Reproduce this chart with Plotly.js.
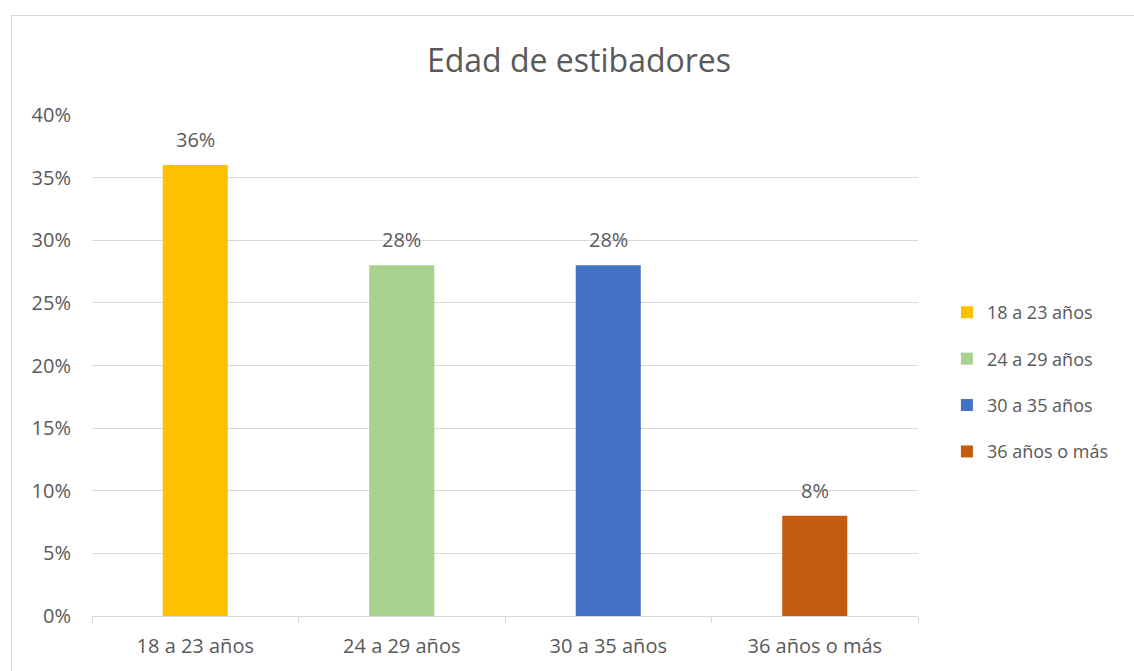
<!DOCTYPE html>
<html>
<head>
<meta charset="utf-8">
<script src="https://cdn.plot.ly/plotly-3.0.1.min.js"></script>
<style>
  html, body { margin: 0; padding: 0; background: #ffffff; overflow: hidden; }
  #chart { position: absolute; left: 0; top: 0; width: 1134px; height: 671px; }
  #frame { position: absolute; left: 11px; top: 15px; width: 1200px; height: 700px;
           border: 1px solid #d9d9d9; box-sizing: border-box; pointer-events: none; }
</style>
</head>
<body>
<div id="chart"></div>
<div id="frame"></div>
<script>
// Age groups of dock workers, share of total
const categories = ['18 a 23 años', '24 a 29 años', '30 a 35 años', '36 años o más'];
const shares = [0.36, 0.28, 0.28, 0.08];
const barColors = ['#FFC000', '#A9D18E', '#4472C4', '#C55A11'];
const yTickValues = [0, 0.05, 0.10, 0.15, 0.20, 0.25, 0.30, 0.35, 0.40];
const yTickLabels = ['0%', '5%', '10%', '15%', '20%', '25%', '30%', '35%', '40%'];

const fontFamily = '"Open Sans", "Noto Sans", sans-serif';
const textColor = '#595959';
const fontSize = 20;

// One trace per age group so each gets its own legend entry
const traces = categories.map((cat, i) => ({
  type: 'bar',
  name: cat,
  x: [cat],
  y: [shares[i]],
  marker: { color: barColors[i] },
  width: 0.315,
  legendgroup: 'g' + i,
  hoverinfo: 'skip'
}));

// Value labels sitting above each bar
const valueLabels = categories.map((cat, i) => ({
  x: cat,
  y: shares[i],
  xref: 'x',
  yref: 'y',
  text: Math.round(shares[i] * 100) + '%',
  showarrow: false,
  yanchor: 'bottom',
  yshift: 10,
  font: { family: fontFamily, size: fontSize, color: textColor }
}));

const layout = {
  width: 1134,
  height: 671,
  margin: { l: 92, r: 216, t: 115, b: 55, autoexpand: false },
  paper_bgcolor: 'rgba(0,0,0,0)',
  plot_bgcolor: '#ffffff',
  barmode: 'overlay',
  showlegend: true,
  font: { family: fontFamily, color: textColor, size: fontSize },
  title: {
    text: 'Edad de estibadores',
    font: { family: fontFamily, size: 32, color: textColor },
    xref: 'container', x: 0.5106, xanchor: 'center',
    yref: 'container', y: 0.91, yanchor: 'middle'
  },
  annotations: valueLabels,
  xaxis: {
    type: 'category',
    categoryorder: 'array',
    categoryarray: categories,
    showgrid: false,
    showline: true,
    linecolor: '#d9d9d9',
    linewidth: 1,
    ticks: 'outside',
    tickson: 'boundaries',
    ticklen: 6,
    tickcolor: '#d9d9d9',
    tickfont: { family: fontFamily, size: fontSize, color: textColor },
    ticklabelstandoff: 12,
    fixedrange: true
  },
  yaxis: {
    range: [0, 0.40],
    tickvals: yTickValues,
    ticktext: yTickLabels,
    showgrid: true,
    gridcolor: '#d9d9d9',
    gridwidth: 1,
    zeroline: false,
    showline: false,
    ticks: '',
    ticklabelstandoff: 20,
    tickfont: { family: fontFamily, size: fontSize, color: textColor },
    fixedrange: true
  },
  legend: {
    x: 1.035, xref: 'paper', xanchor: 'left',
    y: 0.467, yanchor: 'middle',
    font: { family: fontFamily, size: 18, color: textColor },
    tracegroupgap: 20,
    itemwidth: 30,
    traceorder: 'grouped'
  }
};

Plotly.newPlot('chart', traces, layout, { displayModeBar: false, staticPlot: true });
</script>
</body>
</html>
